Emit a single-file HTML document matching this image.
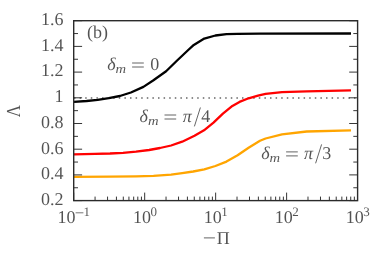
<!DOCTYPE html>
<html><head><meta charset="utf-8">
<style>
html,body{margin:0;padding:0;background:#fff;}
svg{display:block;will-change:transform;opacity:0.999}
text{font-family:"Liberation Serif",serif;fill:#000;text-rendering:geometricPrecision;}
.i{font-style:italic}
</style></head><body>
<svg width="390" height="253" viewBox="0 0 390 253">
<rect width="390" height="253" fill="#fff"/>
<line x1="74.0" y1="98.00" x2="357.6" y2="98.00" stroke="#666" stroke-width="1.3" stroke-dasharray="1.5,4.1"/>
<polyline fill="none" stroke="#000" stroke-width="2.3" stroke-linejoin="round" points="73.7,101.9 86.6,101 97.7,99.9 108.8,98.2 119.9,96 130.9,92.5 143.4,86.9 153.1,80.5 166.1,71.2 176.6,61 187.7,50.5 193.8,44.9 204.3,38.6 215.4,35.5 226.5,34.1 237.6,33.8 260,33.6 351,33.5"/>
<polyline fill="none" stroke="#ff0000" stroke-width="2.3" stroke-linejoin="round" points="73.7,154.3 95,153.9 110,153.5 123,152.8 136,151.7 149.1,150 160,148 171.1,145.5 182.2,141.7 194.5,135.8 204,130.3 213.5,122.7 222.9,113.7 232.4,105.9 239.5,101.9 248.6,98.3 258,95.7 265.6,93.8 282,92.1 306.7,91.3 351,90.4"/>
<polyline fill="none" stroke="#ffa500" stroke-width="2.3" stroke-linejoin="round" points="73.7,176.8 110,176.7 136,176.3 153.5,175.9 171.1,174.7 182.2,173.2 193.2,171.5 204.3,169.3 215.4,166 226.5,161.6 237.6,155.2 248.6,147.7 260,140.8 265.6,138.5 282,134.4 306.7,131.5 351,130.3"/>
<rect x="73.70" y="20.70" width="283.90" height="179.90" fill="none" stroke="#2b2b2b" stroke-width="1.4"/>
<path d="M73.70 200.60h8.4M357.60 200.60h-8.4M73.70 187.75h4.3M357.60 187.75h-4.3M73.70 174.90h8.4M357.60 174.90h-8.4M73.70 162.05h4.3M357.60 162.05h-4.3M73.70 149.20h8.4M357.60 149.20h-8.4M73.70 136.35h4.3M357.60 136.35h-4.3M73.70 123.50h8.4M357.60 123.50h-8.4M73.70 110.65h4.3M357.60 110.65h-4.3M73.70 97.80h8.4M357.60 97.80h-8.4M73.70 84.95h4.3M357.60 84.95h-4.3M73.70 72.10h8.4M357.60 72.10h-8.4M73.70 59.25h4.3M357.60 59.25h-4.3M73.70 46.40h8.4M357.60 46.40h-8.4M73.70 33.55h4.3M357.60 33.55h-4.3M73.70 20.70h8.4M357.60 20.70h-8.4M73.70 200.60v-8.0M95.07 200.60v-4.0M107.56 200.60v-4.0M116.43 200.60v-4.0M123.31 200.60v-4.0M128.93 200.60v-4.0M133.68 200.60v-4.0M137.80 200.60v-4.0M141.43 200.60v-4.0M144.68 200.60v-8.0M166.04 200.60v-4.0M178.54 200.60v-4.0M187.41 200.60v-4.0M194.28 200.60v-4.0M199.90 200.60v-4.0M204.66 200.60v-4.0M208.77 200.60v-4.0M212.40 200.60v-4.0M215.65 200.60v-8.0M237.02 200.60v-4.0M249.51 200.60v-4.0M258.38 200.60v-4.0M265.26 200.60v-4.0M270.88 200.60v-4.0M275.63 200.60v-4.0M279.75 200.60v-4.0M283.38 200.60v-4.0M286.62 200.60v-8.0M307.99 200.60v-4.0M320.49 200.60v-4.0M329.36 200.60v-4.0M336.23 200.60v-4.0M341.85 200.60v-4.0M346.61 200.60v-4.0M350.72 200.60v-4.0M354.35 200.60v-4.0" stroke="#2b2b2b" stroke-width="0.95" fill="none"/>
<g opacity="0.68">
<text transform="translate(63.60,204.90) scale(1,1)" font-size="18" text-anchor="end">0.2</text>
<text transform="translate(63.60,179.20) scale(1,1)" font-size="18" text-anchor="end">0.4</text>
<text transform="translate(63.60,153.50) scale(1,1)" font-size="18" text-anchor="end">0.6</text>
<text transform="translate(63.60,127.80) scale(1,1)" font-size="18" text-anchor="end">0.8</text>
<text transform="translate(63.60,102.10) scale(1,1)" font-size="18" text-anchor="end">1</text>
<text transform="translate(63.60,76.40) scale(1,1)" font-size="18" text-anchor="end">1.2</text>
<text transform="translate(63.60,50.70) scale(1,1)" font-size="18" text-anchor="end">1.4</text>
<text transform="translate(63.60,25.00) scale(1,1)" font-size="18" text-anchor="end">1.6</text>
<text transform="translate(57.40,222.90) scale(1,1)" font-size="18">10</text>
<path d="M75.6 212.8h7.8" stroke="#000" stroke-width="0.8"/>
<text transform="translate(83.40,216.20) scale(1,1)" font-size="13">1</text>
<text transform="translate(132.88,222.90) scale(1,1)" font-size="18">10</text>
<text transform="translate(150.38,216.20) scale(1,1)" font-size="13">0</text>
<text transform="translate(203.85,222.90) scale(1,1)" font-size="18">10</text>
<text transform="translate(221.35,216.20) scale(1,1)" font-size="13">1</text>
<text transform="translate(274.82,222.90) scale(1,1)" font-size="18">10</text>
<text transform="translate(292.32,216.20) scale(1,1)" font-size="13">2</text>
<text transform="translate(345.80,222.90) scale(1,1)" font-size="18">10</text>
<text transform="translate(363.30,216.20) scale(1,1)" font-size="13">3</text>
<path d="M203.9 237.9h11" stroke="#000" stroke-width="0.9"/>
<text transform="translate(216.80,243.80) scale(1,1)" font-size="18">Π</text>
<text transform="translate(87.00,37.70) scale(1,1)" font-size="18">(b)</text>
<text transform="translate(107.20,70.40) scale(1,1)" font-size="18" class="i">δ</text><text transform="translate(115.60,72.60) scale(1,1)" font-size="13" class="i" textLength="10.6" lengthAdjust="spacingAndGlyphs">m</text><path d="M132.1 63.0h11.7M132.1 67.0h11.7" stroke="#000" stroke-width="0.9"/><text transform="translate(150.20,70.40) scale(1,1)" font-size="18">0</text>
<text transform="translate(139.60,122.40) scale(1,1)" font-size="18" class="i">δ</text><text transform="translate(148.00,124.60) scale(1,1)" font-size="13" class="i" textLength="10.6" lengthAdjust="spacingAndGlyphs">m</text><path d="M164.5 115.0h11.7M164.5 119.0h11.7" stroke="#000" stroke-width="0.9"/><text transform="translate(182.80,122.40) scale(1,1)" font-size="18" class="i">π</text><path d="M194.4 126.4L200.4 107.5" stroke="#000" stroke-width="0.9" fill="none"/><text transform="translate(201.20,122.40) scale(1,1)" font-size="18">4</text>
<text transform="translate(261.20,159.30) scale(1,1)" font-size="18" class="i">δ</text><text transform="translate(269.60,161.50) scale(1,1)" font-size="13" class="i" textLength="10.6" lengthAdjust="spacingAndGlyphs">m</text><path d="M286.1 151.9h11.7M286.1 155.9h11.7" stroke="#000" stroke-width="0.9"/><text transform="translate(303.90,159.30) scale(1,1)" font-size="18" class="i">π</text><path d="M315.6 163.3L321.6 144.4" stroke="#000" stroke-width="0.9" fill="none"/><text transform="translate(322.30,159.30) scale(1,1)" font-size="18">3</text>
<text transform="translate(20.3,111) rotate(-90) scale(0.94,1.1)" text-anchor="middle" font-size="18">Λ</text>
</g>
</svg>
</body></html>
